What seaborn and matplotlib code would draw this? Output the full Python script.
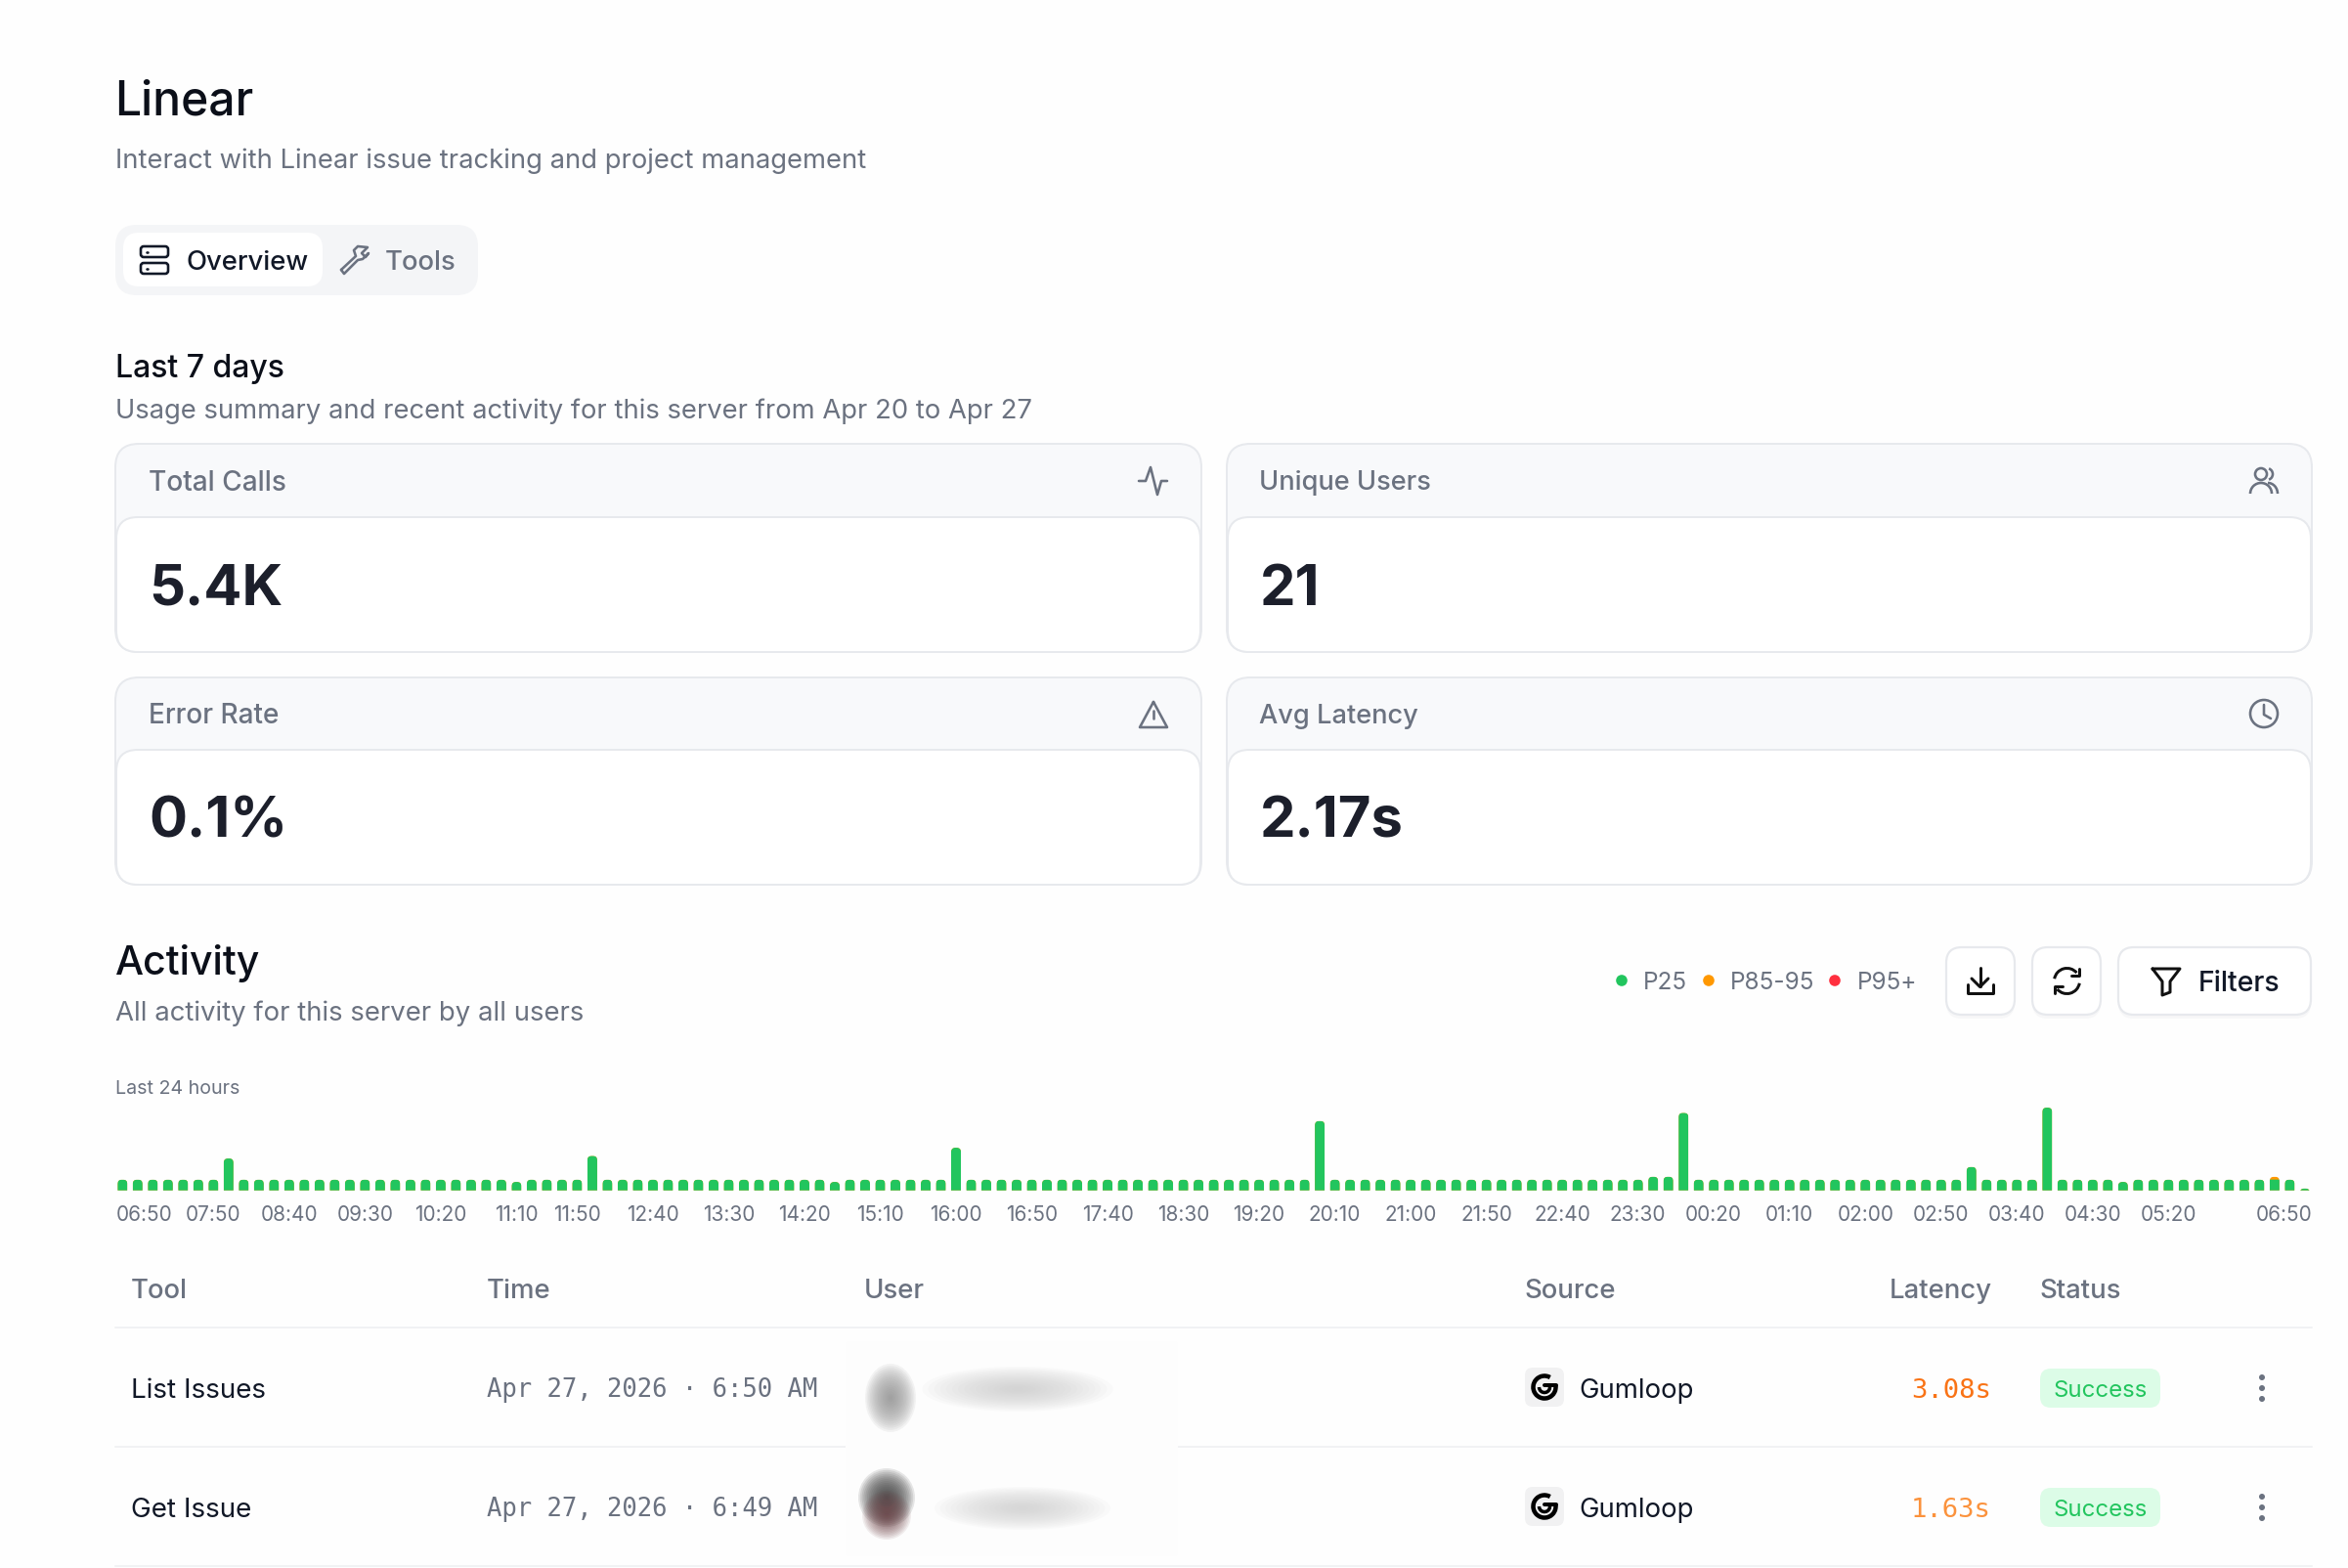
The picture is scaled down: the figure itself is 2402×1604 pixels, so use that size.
import numpy as np
import pandas as pd
import matplotlib
matplotlib.use("Agg")
import matplotlib.pyplot as plt
from matplotlib.patches import FancyBboxPatch, Circle, Arc, Ellipse
from matplotlib.transforms import ScaledTranslation
import seaborn as sns

# =========================
# DATA
# =========================

# calls per 10 minute slot, 145 slots from 06:50 to 06:50
p25_calls = [
    33, 33, 33, 33, 33, 33, 33, 98, 33, 33,
    33, 33, 33, 33, 33, 33, 33, 33, 33, 33,
    33, 33, 33, 33, 33, 33, 26, 33, 33, 33,
    33, 106, 33, 33, 33, 33, 33, 33, 33, 33,
    33, 33, 33, 33, 33, 33, 33, 26, 33, 33,
    33, 33, 33, 33, 33, 131, 33, 33, 33, 33,
    33, 33, 33, 33, 33, 33, 33, 33, 33, 33,
    33, 33, 33, 33, 33, 33, 33, 33, 33, 213,
    33, 33, 33, 33, 33, 33, 33, 33, 33, 33,
    33, 33, 33, 33, 33, 33, 33, 33, 33, 33,
    33, 42, 42, 238, 33, 33, 33, 33, 33, 33,
    33, 33, 33, 33, 33, 33, 33, 33, 33, 33,
    33, 33, 72, 33, 33, 33, 33, 254, 33, 33,
    33, 33, 26, 33, 33, 33, 33, 33, 33, 33,
    33, 33, 33, 33, 6,
]
p85_calls = [0] * 142 + [9, 0, 0]

tick_slots = [0, 6, 11, 16, 21, 26, 30, 35, 40, 45, 50, 55, 60, 65, 70, 75, 80,
              85, 90, 95, 100, 105, 110, 115, 120, 125, 130, 135, 144]
tick_labels = ["06:50", "07:50", "08:40", "09:30", "10:20", "11:10", "11:50", "12:40",
               "13:30", "14:20", "15:10", "16:00", "16:50", "17:40", "18:30", "19:20",
               "20:10", "21:00", "21:50", "22:40", "23:30", "00:20", "01:10", "02:00",
               "02:50", "03:40", "04:30", "05:20", "06:50"]

legend_names = ["P25", "P85-95", "P95+"]
legend_colors = ["#22c55e", "#ff9800", "#ff2f3e"]

card_titles = ["Total Calls", "Unique Users", "Error Rate", "Avg Latency"]
card_values = ["5.4K", "21", "0.1%", "2.17s"]

table_headers = ["Tool", "Time", "User", "Source", "Latency", "Status"]
row_tools = ["List Issues", "Get Issue"]
row_times = ["Apr 27, 2026 · 6:50 AM", "Apr 27, 2026 · 6:49 AM"]
row_latency = ["3.08s", "1.63s"]
latency_colors = ["#f97316", "#fb923c"]

GRAY = "#6b7280"
DARK = "#111827"
LINE = "#e7e9ed"
MONO = "DejaVu Sans Mono"

# =========================
# HELPERS
# =========================

W, H = 2402, 1604

sns.set_theme(style="white")
plt.rcParams["font.family"] = ["Inter", "DejaVu Sans"]

fig = plt.figure(figsize=(W / 100, H / 100), dpi=100, facecolor="#fefefe")
bg = fig.add_axes([0, 0, 1, 1])
bg.set_xlim(0, W)
bg.set_ylim(H, 0)
bg.axis("off")


def txt(x, y, s, size, color=DARK, weight="normal", ha="left", family=None):
    # y is the middle of the capitals
    kw = {"family": family} if family else {}
    bg.text(x, y + 0.36 * size, s, fontsize=size * 0.72, color=color, fontweight=weight,
            ha=ha, va="baseline", **kw)


def box(x0, y0, x1, y1, r, fc, ec="none", lw=2.0, z=1):
    bg.add_patch(FancyBboxPatch((x0, y0), x1 - x0, y1 - y0,
                                boxstyle=f"round,pad=0,rounding_size={r}",
                                fc=fc, ec=ec, lw=lw * 0.72, zorder=z))


def stroke(xs, ys, color=GRAY, lw=2.6, z=4):
    bg.plot(xs, ys, color=color, lw=lw * 0.72, zorder=z,
            solid_capstyle="round", solid_joinstyle="round")


def soft(cx, cy, w, h, color, alpha=0.09, steps=16, z=3):
    # nested ellipses, stands in for the blur over the user names
    for k in range(steps):
        f = 1 - k / steps
        bg.add_patch(Ellipse((cx, cy), w * f, h * f, fc=color, ec="none", alpha=alpha, zorder=z))


# =========================
# HEADER
# =========================

txt(117, 100, "Linear", 48, "#0b0f19", "medium")
txt(118, 162, "Interact with Linear issue tracking and project management", 27.4, GRAY)

box(118, 230, 489, 302, 22, "#f4f5f7")
box(126, 238, 330, 293, 16, "#ffffff")
box(144, 252, 172, 263, 3, "none", DARK, 2.6, 4)
box(144, 269, 172, 280, 3, "none", DARK, 2.6, 4)
stroke([150, 150.5], [257.5, 257.5], DARK, 2.6)
stroke([150, 150.5], [274.5, 274.5], DARK, 2.6)
txt(190, 266, "Overview", 27.5, DARK, "medium")
stroke([349, 364, 362, 366, 376, 370, 374, 377, 371, 366, 352, 349],
       [276, 262, 256, 252, 253, 259, 263, 259, 265, 266, 280, 276])
txt(394, 266, "Tools", 27.5, GRAY, "medium")

txt(118, 374, "Last 7 days", 32, "#0b0f19", "medium")
txt(118, 418, "Usage summary and recent activity for this server from Apr 20 to Apr 27", 27.4, GRAY)

# =========================
# CARDS
# =========================

card_x = [(118, 1229), (1255, 2365)]
card_y = [(454, 529, 667), (693, 767, 905)]
title_size = [28, 27.2]
for i, (title, value) in enumerate(zip(card_titles, card_values)):
    x0, x1 = card_x[i % 2]
    y0, ym, y1 = card_y[i // 2]
    box(x0, y0, x1, y1, 24, "#f8f9fb", LINE)
    box(x0 + 1, ym, x1 - 1, y1, 22, "#ffffff", LINE, z=2)
    txt(x0 + 34 - i % 2, (y0 + ym) / 2, title, title_size[i % 2], GRAY, "medium")
    txt(x0 + 34, (ym + y1) / 2, value, 58, "#1c1f2b", "bold")

# card icons
stroke([1165, 1172, 1177, 1184, 1188, 1194], [492, 492, 478, 506, 492, 492])
ux, uy = 2316, 492
bg.add_patch(Circle((ux - 3, uy - 7), 6, fc="none", ec=GRAY, lw=2.6 * 0.72, zorder=4))
bg.add_patch(Arc((ux - 3, uy + 13), 22, 22, theta1=180, theta2=360, ec=GRAY, lw=2.6 * 0.72, zorder=4))
bg.add_patch(Arc((ux + 3, uy - 7), 12, 12, theta1=-70, theta2=70, ec=GRAY, lw=2.6 * 0.72, zorder=4))
bg.add_patch(Arc((ux + 4, uy + 13), 20, 22, theta1=270, theta2=360, ec=GRAY, lw=2.6 * 0.72, zorder=4))
stroke([1180, 1166, 1194, 1180], [718, 744, 744, 718])
stroke([1180, 1180], [727, 735])
stroke([1180, 1180.3], [740, 740])
bg.add_patch(Circle((2316, 730), 14, fc="none", ec=GRAY, lw=2.6 * 0.72, zorder=4))
stroke([2316, 2316, 2323], [721, 731, 735])

# =========================
# ACTIVITY HEADER
# =========================

txt(118, 982, "Activity", 41, "#0b0f19", "medium")
txt(118, 1034, "All activity for this server by all users", 27.5, GRAY)

dot_x = [1659, 1748, 1877]
name_x = [1681, 1770, 1900]
for dx, nx, name, col in zip(dot_x, name_x, legend_names, legend_colors):
    bg.add_patch(Circle((dx, 1003), 5.8, fc=col, ec="none", zorder=4))
    txt(nx, 1003, name, 24.3, GRAY)

for x0, x1 in [(1991, 2061), (2079, 2149), (2167, 2364)]:
    box(x0, 973, x1, 1042, 16, "#f7f7f8")
    box(x0, 969, x1, 1038, 16, "#ffffff", LINE, 2.2, 2)

# download
stroke([2025.5, 2025.5], [990, 1009], "#111111", 3)
stroke([2017, 2025.5, 2034], [1001, 1009.5, 1001], "#111111", 3)
stroke([2012.5, 2012.5, 2039, 2039], [1007, 1016, 1016, 1007], "#111111", 3)
# sync
bg.add_patch(Arc((2114.5, 1003.5), 26, 26, theta1=190, theta2=320, ec="#111111", lw=3 * 0.72, zorder=4))
bg.add_patch(Arc((2114.5, 1003.5), 26, 26, theta1=10, theta2=140, ec="#111111", lw=3 * 0.72, zorder=4))
stroke([2127, 2127, 2119], [991, 998, 998], "#111111", 3)
stroke([2102, 2102, 2110], [1016, 1009, 1009], "#111111", 3)
# funnel
stroke([2202, 2230, 2220, 2220, 2212, 2212, 2202], [991, 991, 1004, 1015, 1018, 1004, 991], "#111111", 3)
txt(2249, 1004, "Filters", 28.5, DARK, "medium")

txt(118, 1112, "Last 24 hours", 19.6, GRAY)

# =========================
# ACTIVITY BARS
# =========================

p25 = np.array(p25_calls)
total = p25 + np.array(p85_calls)
slots = np.arange(len(p25))
datos = pd.DataFrame({"slot": slots, "p25": p25, "total": total})

pitch = 15.504
ax_left = 125.3 - pitch / 2
ax_w = pitch * len(slots)
ax_h = 88
ax_bottom = H - 1217.7
y_max = 264

ax = fig.add_axes([ax_left / W, ax_bottom / H, ax_w / W, ax_h / H])
ax.patch.set_visible(False)
bar_w = 0.65
# no edge here, the seaborn theme puts a white one on the bars
sns.barplot(data=datos, x="slot", y="total", color=legend_colors[1], saturation=1,
            width=bar_w, errorbar=None, linewidth=0, edgecolor="none", ax=ax)
sns.barplot(data=datos, x="slot", y="p25", color=legend_colors[0], saturation=1,
            width=bar_w, errorbar=None, linewidth=0, edgecolor="none", ax=ax)
ax.set_xlim(-0.5, len(slots) - 0.5)
ax.set_ylim(0, y_max)

# round the top of each bar
aspect = (y_max / ax_h) * pitch
for bar in ax.patches:
    s = int(round(bar.get_x() + bar.get_width() / 2))
    clip = FancyBboxPatch((s - bar_w / 2, -60), bar_w, total[s] + 60,
                          boxstyle="round,pad=0,rounding_size=0.3", mutation_aspect=aspect)
    clip.set_transform(ax.transData)
    bar.set_clip_path(clip)
    bar.set_snap(False)

ax.set_xticks(tick_slots)
ax.set_xticklabels(tick_labels, fontsize=20.8 * 0.72, color=GRAY)
ax.set_yticks([])
ax.set_xlabel("")
ax.set_ylabel("")
ax.tick_params(axis="x", length=0, pad=11)
sns.despine(ax=ax, left=True, bottom=True)

# first and last label sit flush with the chart edges
first, last = ax.get_xticklabels()[0], ax.get_xticklabels()[-1]
first.set_ha("left")
last.set_ha("right")
first.set_transform(first.get_transform() + ScaledTranslation(-7 / 100, 0, fig.dpi_scale_trans))
last.set_transform(last.get_transform() + ScaledTranslation(8 / 100, 0, fig.dpi_scale_trans))

# =========================
# TABLE
# =========================

head_x = [134, 498, 884, 1559.5, 2038, 2086]
for x, name in zip(head_x, table_headers):
    txt(x, 1318, name, 27.5, GRAY, "medium", ha="right" if name == "Latency" else "left")

for y in [1358, 1480, 1602]:
    bg.plot([118, 2365], [y, y], color="#f1f2f4", lw=2 * 0.72, zorder=1)

row_y = [1420, 1542]
for i, y in enumerate(row_y):
    txt(134, y, row_tools[i], 27.8, DARK)
    txt(498, y, row_times[i], 25.6, GRAY, family=MONO)

    box(1560, y - 21, 1600, y + 19, 8, "#f1f1f2")
    bg.add_patch(Arc((1580, y - 1), 23, 23, theta1=-10, theta2=300, ec="#000000", lw=4.5 * 0.72, zorder=4))
    bg.add_patch(Arc((1580, y - 1), 11, 11, theta1=-20, theta2=180, ec="#000000", lw=3.5 * 0.72, zorder=4))
    stroke([1580, 1592], [y - 3, y - 3], "#000000", 4)
    txt(1615, y, "Gumloop", 27.5, DARK)

    txt(2037, y, row_latency[i], 27.3, latency_colors[i], ha="right", family=MONO)

    box(2087, y - 20, 2210, y + 20, 11, "#dcfce7")
    txt(2148.5, y, "Success", 24, "#22c55e", ha="center")

    for dy in [-11, 0, 11]:
        bg.add_patch(Circle((2314, y + dy), 3, fc=GRAY, ec="none", zorder=4))

# blurred users, names are not readable in the source
box(865, 1372, 1205, 1592, 4, "#fdfdfd", z=2)
soft(911, 1430, 52, 70, "#8d8d8d")
soft(1041, 1421, 195, 46, "#c8c8c8", alpha=0.07)
soft(907, 1532, 58, 60, "#454545", alpha=0.13)
soft(907, 1550, 50, 50, "#6d4448", alpha=0.09)
soft(1046, 1543, 180, 44, "#cccccc", alpha=0.07)

fig.savefig("out.png", dpi=100, facecolor=fig.get_facecolor())
